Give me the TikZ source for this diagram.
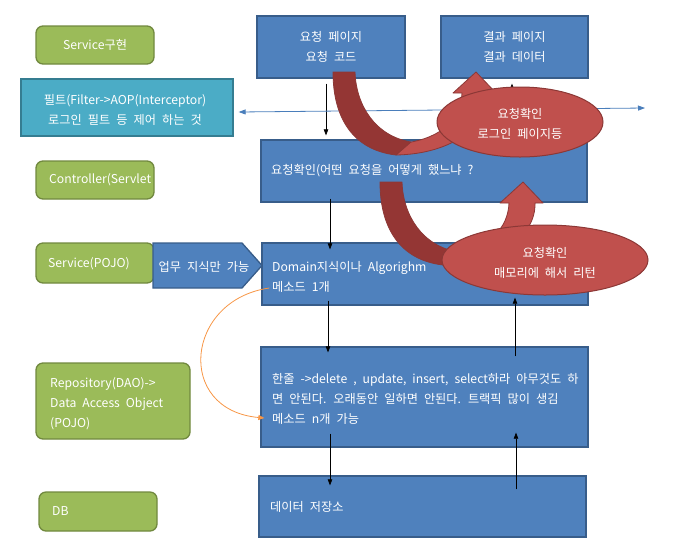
\documentclass[tikz,border=0pt]{standalone}
\usepackage{fontspec}
\setmainfont{Noto Sans CJK KR}[WordSpace=2.2]
\usetikzlibrary{arrows.meta,shapes.geometric,shapes.misc}
\definecolor{bfill}{HTML}{4F81BD}
\definecolor{bline}{HTML}{385D8A}
\definecolor{gfill}{HTML}{9BBB59}
\definecolor{gline}{HTML}{71893F}
\definecolor{tfill}{HTML}{4BACC6}
\definecolor{tline}{HTML}{357D91}
\definecolor{rfill}{HTML}{C0504D}
\definecolor{rdark}{HTML}{943634}
\definecolor{rline}{HTML}{8C3836}
\definecolor{oline}{HTML}{F79646}
\definecolor{lblue}{HTML}{4A7EBB}
\begin{document}
\begin{tikzpicture}[x=1pt,y=-1pt,
  bluebox/.style={draw=bline,fill=bfill,line width=1.3pt,inner sep=0pt},
  greenbox/.style={draw=gline,fill=gfill,line width=1.3pt,rounded corners=7pt,inner sep=0pt},
  wtext/.style={text=white,font=\fontsize{12.2}{20}\selectfont,inner sep=0pt},
  arr/.style={-{Triangle[length=6pt,width=4.5pt]},line width=0.6pt,black},
  redell/.style={ellipse,draw=rline,fill=rfill,line width=1pt,inner sep=0pt}
]
\useasboundingbox (0,0) rectangle (695,558);

% left column
\node[greenbox,minimum width=118pt,minimum height=38pt] (g1) at (95,45) {};
\node[wtext] (g1t) at (95,45) {Service구현};
\node[chamfered rectangle,chamfered rectangle corners=north east,
      chamfered rectangle xsep=10pt,chamfered rectangle ysep=9pt,
      draw=tline,fill=tfill,line width=1.3pt,inner sep=0pt,
      minimum width=212pt,minimum height=57pt] (flt) at (127,107.5) {};
\node[wtext,align=center] (fltt) at (125,110) {필트(Filter->AOP(Interceptor)\\로그인 필트 등 제어 하는 것};
\node[greenbox,minimum width=118pt,minimum height=38pt] (g2) at (95,180) {};
\node[wtext,anchor=west] (g2t) at (49,180) {Controller(Servlet};
\node[greenbox,minimum width=118pt,minimum height=40pt] (g3) at (95,263) {};
\node[wtext,anchor=west] (g3t) at (48,264) {Service(POJO)};
\draw[draw=bline,fill=bfill,line width=1.3pt,line join=miter]
  (153,243) -- (242,243) -- (262,265.5) -- (242,288) -- (153,288) -- cycle;
\node[wtext] (bizt) at (204,267) {업무 지식만 가능};
\node[greenbox,minimum width=154pt,minimum height=76pt] (g4) at (113,401) {};
\node[wtext,anchor=west,align=left] (g4t) at (50,404) {Repository(DAO)->\\Data Access Object\\(POJO)};
\node[greenbox,minimum width=118pt,minimum height=39pt] (g5) at (98,511.5) {};
\node[wtext,anchor=west] (g5t) at (52,511) {DB};

% blue boxes
\node[bluebox,minimum width=148pt,minimum height=62pt] (req) at (331,47) {};
\node[wtext,align=center] (reqt) at (331,47) {요청 페이지\\요청 코드};
\node[bluebox,minimum width=147pt,minimum height=62pt] (res) at (514.5,47) {};
\node[wtext,align=center] (rest) at (514.5,47) {결과 페이지\\결과 데이터};
\node[bluebox,minimum width=326pt,minimum height=62pt] (chk) at (424,171) {};
\node[wtext,anchor=west] (chkt) at (271,171) {요청확인(어떤 요청을 어떻게 했느냐 ?};
\node[bluebox,minimum width=326pt,minimum height=62pt] (dom) at (425,274) {};
\node[wtext,anchor=west,align=left] (domt) at (272,276.5) {Domain지식이나 Algorighm\\메소드 1개};
\node[bluebox,minimum width=327pt,minimum height=100pt] (one) at (424.5,397) {};
\node[wtext,anchor=west,align=left] (onet) at (272,398.5) {한줄 ->delete , update, insert, select하라 아무것도 하\\면 안된다. 오래동안 일하면 안된다. 트랙픽 많이 생김\\메소드 n개 가능};
\node[bluebox,minimum width=327pt,minimum height=61pt] (dbs) at (422.5,506.5) {};
\node[wtext,anchor=west] (dbst) at (270,507) {데이터 저장소};

% black arrows
\draw[arr] ([xshift=-5pt,yshift=-5pt]req.south) -- ([xshift=-98pt,yshift=4pt]chk.north);
\draw[arr] ([xshift=-94pt,yshift=4pt]chk.south) -- ([xshift=-95pt,yshift=-7pt]dom.north);
\draw[arr] ([xshift=-97pt,yshift=5pt]dom.south) -- ([xshift=-96.5pt,yshift=-6pt]one.north);
\draw[arr] ([xshift=-94.5pt,yshift=14pt]one.south) -- ([xshift=-92.5pt,yshift=-10pt]dbs.north);
\draw[arr] ([xshift=93.5pt,yshift=-14pt]dbs.north) -- ([xshift=91.5pt,yshift=15pt]one.south);
\draw[arr] ([xshift=90.5pt,yshift=-10pt]one.north) -- ([xshift=90pt,yshift=8pt]dom.south);
\draw[arr] ([xshift=88pt,yshift=-7pt]dom.north) -- ([xshift=89pt,yshift=-3pt]chk.south);
\draw[arr] ([xshift=88pt,yshift=-10pt]chk.north) -- ([xshift=-2.5pt,yshift=-5pt]res.south);

% blue double arrow line
\coordinate (rt) at (645,108);
\draw[lblue,line width=0.8pt,{Triangle[length=7pt,width=5pt]}-{Triangle[length=7pt,width=5pt]}]
  ([xshift=5pt,yshift=-4.5pt]flt.east) -- (rt);

% orange curve
\draw[oline,line width=0.8pt,-{Triangle[length=6pt,width=5pt]}]
  ([xshift=8pt,yshift=-14pt]dom.west) .. controls (185,300) and (175,410) .. ([xshift=4pt,yshift=-21pt]one.west);

% red curved arrows
\foreach \dx/\dy in {-47/-110, 0/0}{
\begin{scope}[shift={(\dx,\dy)}]
  \draw[rline,fill=rfill,line width=0.8pt,line join=round]
    (443,265) .. controls (500,264) and (536,235) .. (535,203) -- (543,203) -- (523,182)
    -- (500,203) -- (509,203) .. controls (508,228) and (490,248) .. (452,253) -- cycle;
  \draw[rline,fill=rdark,line width=0.8pt,line join=round]
    (380,182) .. controls (380,228) and (400,260) .. (443,265) -- (458,252)
    .. controls (422,246) and (403,215) .. (402,182) -- cycle;
\end{scope}
}

% ellipses
\node[redell,minimum width=166pt,minimum height=70pt] (e1) at (520,122) {};
\node[wtext,align=center] (e1t) at (520,124) {요청확인\\로그인 페이지등};
\node[redell,minimum width=206pt,minimum height=70pt] (e2) at (545,260) {};
\node[wtext,align=center] (e2t) at (545,262.5) {요청확인\\매모리에 해서 리턴};
\end{tikzpicture}
\end{document}
